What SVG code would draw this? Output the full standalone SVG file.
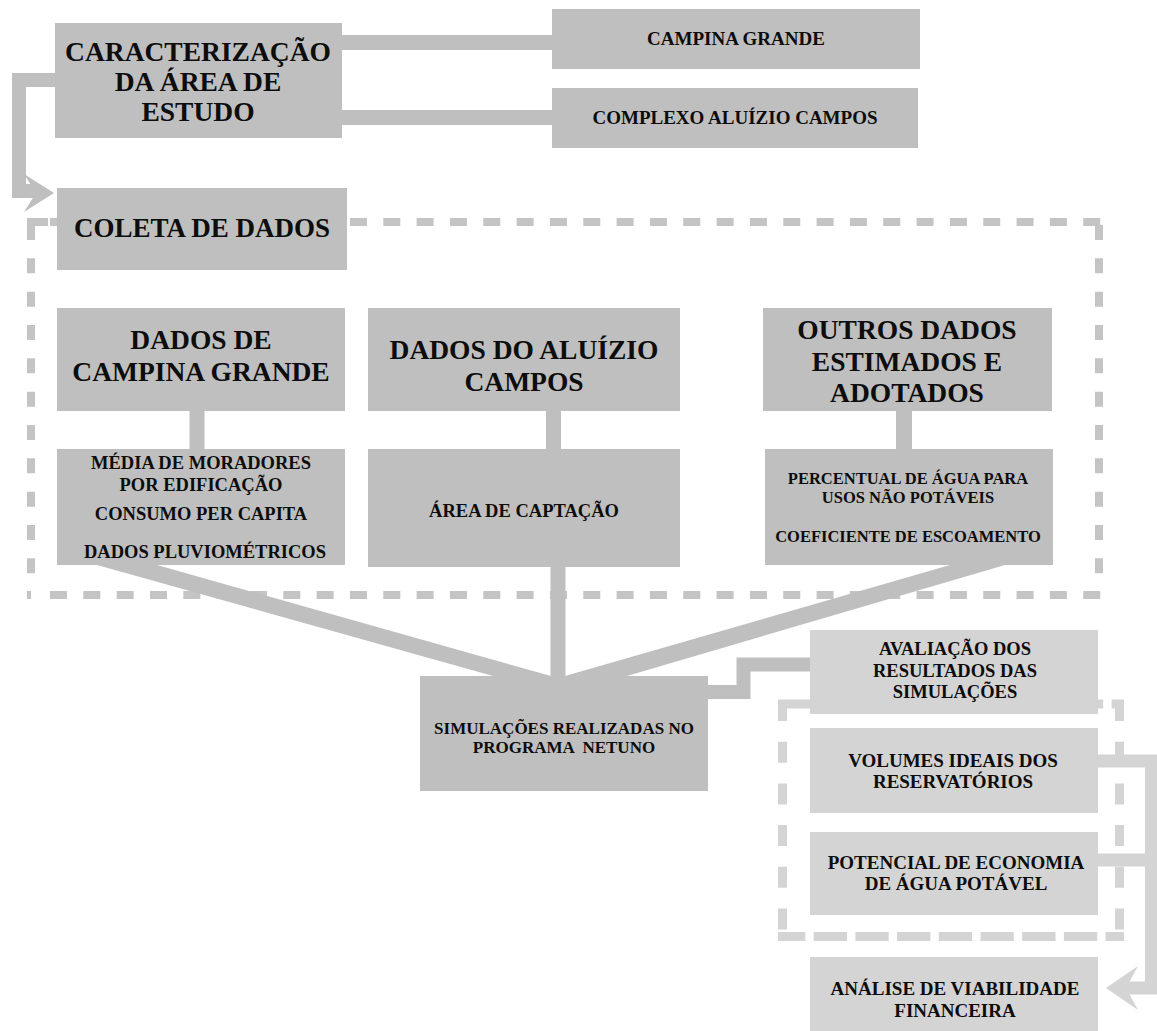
<svg xmlns="http://www.w3.org/2000/svg" width="1157" height="1031" viewBox="0 0 1157 1031">
<style>
  .box { fill: #bfbfbf; }
  .lbox { fill: #d4d4d4; }
  text { font-family: "Liberation Serif", "Times New Roman", serif; font-weight: bold; fill: #0d0d0d; text-anchor: middle; }
  .big { font-size: 27.5px; }
  .mid { font-size: 19px; }
  .sm { font-size: 18.5px; }
  .xs { font-size: 16.5px; }
  .con { stroke: #bfbfbf; fill: none; stroke-linejoin: miter; }
  .lcon { stroke: #d4d4d4; fill: none; stroke-linejoin: miter; }
  .dh { stroke: #c4c4c4; stroke-width: 8; stroke-dasharray: 17 16.33; fill: none; }
  .dv { stroke: #c4c4c4; stroke-width: 8; stroke-dasharray: 15 18.33; fill: none; }
  .ldh { stroke: #d4d4d4; stroke-width: 9; stroke-dasharray: 33.3 8.4; fill: none; }
  .ldv { stroke: #d4d4d4; stroke-width: 9; stroke-dasharray: 21 20.7; fill: none; }
</style>

<g id="dashed-frames">
  <line class="dh" x1="50" y1="222" x2="1103" y2="222"/>
  <line class="dh" x1="50" y1="595" x2="1103" y2="595"/>
  <line class="dv" x1="31" y1="225" x2="31" y2="580"/>
  <line class="dv" x1="1099" y1="225" x2="1099" y2="580"/>
  <path d="M27,222 H48" stroke="#c4c4c4" stroke-width="8"/>
  <path d="M27,595 H31" stroke="#c4c4c4" stroke-width="8"/>
  <line class="ldh" x1="778" y1="704" x2="1124" y2="704"/>
  <line class="ldh" x1="778" y1="936.5" x2="1124" y2="936.5" stroke-dashoffset="6"/>
  <line class="ldv" x1="782.5" y1="700" x2="782.5" y2="941"/>
  <line class="ldv" x1="1119.5" y1="700" x2="1119.5" y2="941"/>
</g>

<g id="connectors">
  <path class="con" stroke-width="15" d="M342,42.5 H552"/>
  <path class="con" stroke-width="15" d="M342,117.5 H552"/>
  <path class="con" stroke-width="14" d="M55,80 H19 V191 H40"/>
  <polygon fill="#bfbfbf" points="24,174 54,193 24,212 36,193"/>
  <path class="con" stroke-width="15" d="M197,411 V449"/>
  <path class="con" stroke-width="15" d="M553.5,411 V449"/>
  <path class="con" stroke-width="16" d="M904,411 V449"/>
  <path class="con" stroke-width="15" d="M558,567 V676"/>
  <polygon fill="#bfbfbf" points="97,565 157,565 551,676 493,676"/>
  <polygon fill="#bfbfbf" points="950,565 1005,565 627,676 565,676"/>
  <path class="con" stroke-width="14" d="M708,692 H743.5 V664.5 H810"/>
  <path class="lcon" stroke-width="13" d="M1098,761 H1151.5 V988 H1126"/>
  <path class="lcon" stroke-width="13" d="M1098,860 H1151.5"/>
  <polygon fill="#d4d4d4" points="1106,988 1138,966 1126,988 1138,1010"/>
</g>

<g id="n-caracterizacao">
  <rect class="box" x="55" y="23" width="287" height="115"/>
  <text class="big" x="198" y="61">CARACTERIZAÇÃO</text>
  <text class="big" x="198" y="91">DA ÁREA DE</text>
  <text class="big" x="198" y="121">ESTUDO</text>
</g>
<g id="n-campina">
  <rect class="box" x="552" y="9" width="368" height="60"/>
  <text class="mid" x="736" y="45">CAMPINA GRANDE</text>
</g>
<g id="n-complexo">
  <rect class="box" x="552" y="88" width="366" height="60"/>
  <text class="mid" x="735" y="124">COMPLEXO ALUÍZIO CAMPOS</text>
</g>
<g id="n-coleta">
  <rect class="box" x="57" y="188" width="290" height="82"/>
  <text class="big" x="202" y="237" style="font-size:27px">COLETA DE DADOS</text>
</g>
<g id="n-dados-cg">
  <rect class="box" x="57" y="308" width="288" height="103"/>
  <text class="big" x="201" y="349">DADOS DE</text>
  <text class="big" x="201" y="381">CAMPINA GRANDE</text>
</g>
<g id="n-dados-ac">
  <rect class="box" x="368" y="308" width="312" height="103"/>
  <text class="big" x="524" y="359">DADOS DO ALUÍZIO</text>
  <text class="big" x="524" y="391">CAMPOS</text>
</g>
<g id="n-outros">
  <rect class="box" x="763" y="308" width="289" height="103"/>
  <text class="big" x="907" y="339">OUTROS DADOS</text>
  <text class="big" x="907" y="371">ESTIMADOS E</text>
  <text class="big" x="907" y="402">ADOTADOS</text>
</g>
<g id="n-media">
  <rect class="box" x="57" y="449" width="288" height="116"/>
  <text class="sm" x="201" y="469">MÉDIA DE MORADORES</text>
  <text class="sm" x="201" y="491">POR EDIFICAÇÃO</text>
  <text class="sm" x="201" y="520">CONSUMO PER CAPITA</text>
  <text class="sm" x="205" y="558">DADOS PLUVIOMÉTRICOS</text>
</g>
<g id="n-area">
  <rect class="box" x="368" y="449" width="312" height="118"/>
  <text class="sm" x="524" y="517">ÁREA DE CAPTAÇÃO</text>
</g>
<g id="n-percentual">
  <rect class="box" x="765" y="449" width="288" height="116"/>
  <text class="xs" x="908" y="484">PERCENTUAL DE ÁGUA PARA</text>
  <text class="xs" x="908" y="503">USOS NÃO POTÁVEIS</text>
  <text class="xs" x="908" y="542">COEFICIENTE DE ESCOAMENTO</text>
</g>
<g id="n-simulacoes">
  <rect class="box" x="420" y="676" width="288" height="115"/>
  <text x="564" y="734" style="font-size:17px">SIMULAÇÕES REALIZADAS NO</text>
  <text x="564" y="753" style="font-size:17px; white-space:pre" xml:space="preserve">PROGRAMA  NETUNO</text>
</g>
<g id="n-avaliacao">
  <rect class="lbox" x="810" y="630" width="288" height="84"/>
  <text class="sm" x="955" y="655">AVALIAÇÃO DOS</text>
  <text class="sm" x="955" y="677">RESULTADOS DAS</text>
  <text class="sm" x="955" y="698">SIMULAÇÕES</text>
</g>
<g id="n-volumes">
  <rect class="lbox" x="810" y="728" width="288" height="85"/>
  <text class="mid" x="953" y="767">VOLUMES IDEAIS DOS</text>
  <text class="mid" x="953" y="788">RESERVATÓRIOS</text>
</g>
<g id="n-potencial">
  <rect class="lbox" x="810" y="832" width="288" height="83"/>
  <text class="mid" x="956" y="869">POTENCIAL DE ECONOMIA</text>
  <text class="mid" x="956" y="890">DE ÁGUA POTÁVEL</text>
</g>
<g id="n-analise">
  <rect class="lbox" x="810" y="957" width="288" height="74"/>
  <text class="mid" x="955" y="995">ANÁLISE DE VIABILIDADE</text>
  <text class="mid" x="955" y="1017">FINANCEIRA</text>
</g>
</svg>
